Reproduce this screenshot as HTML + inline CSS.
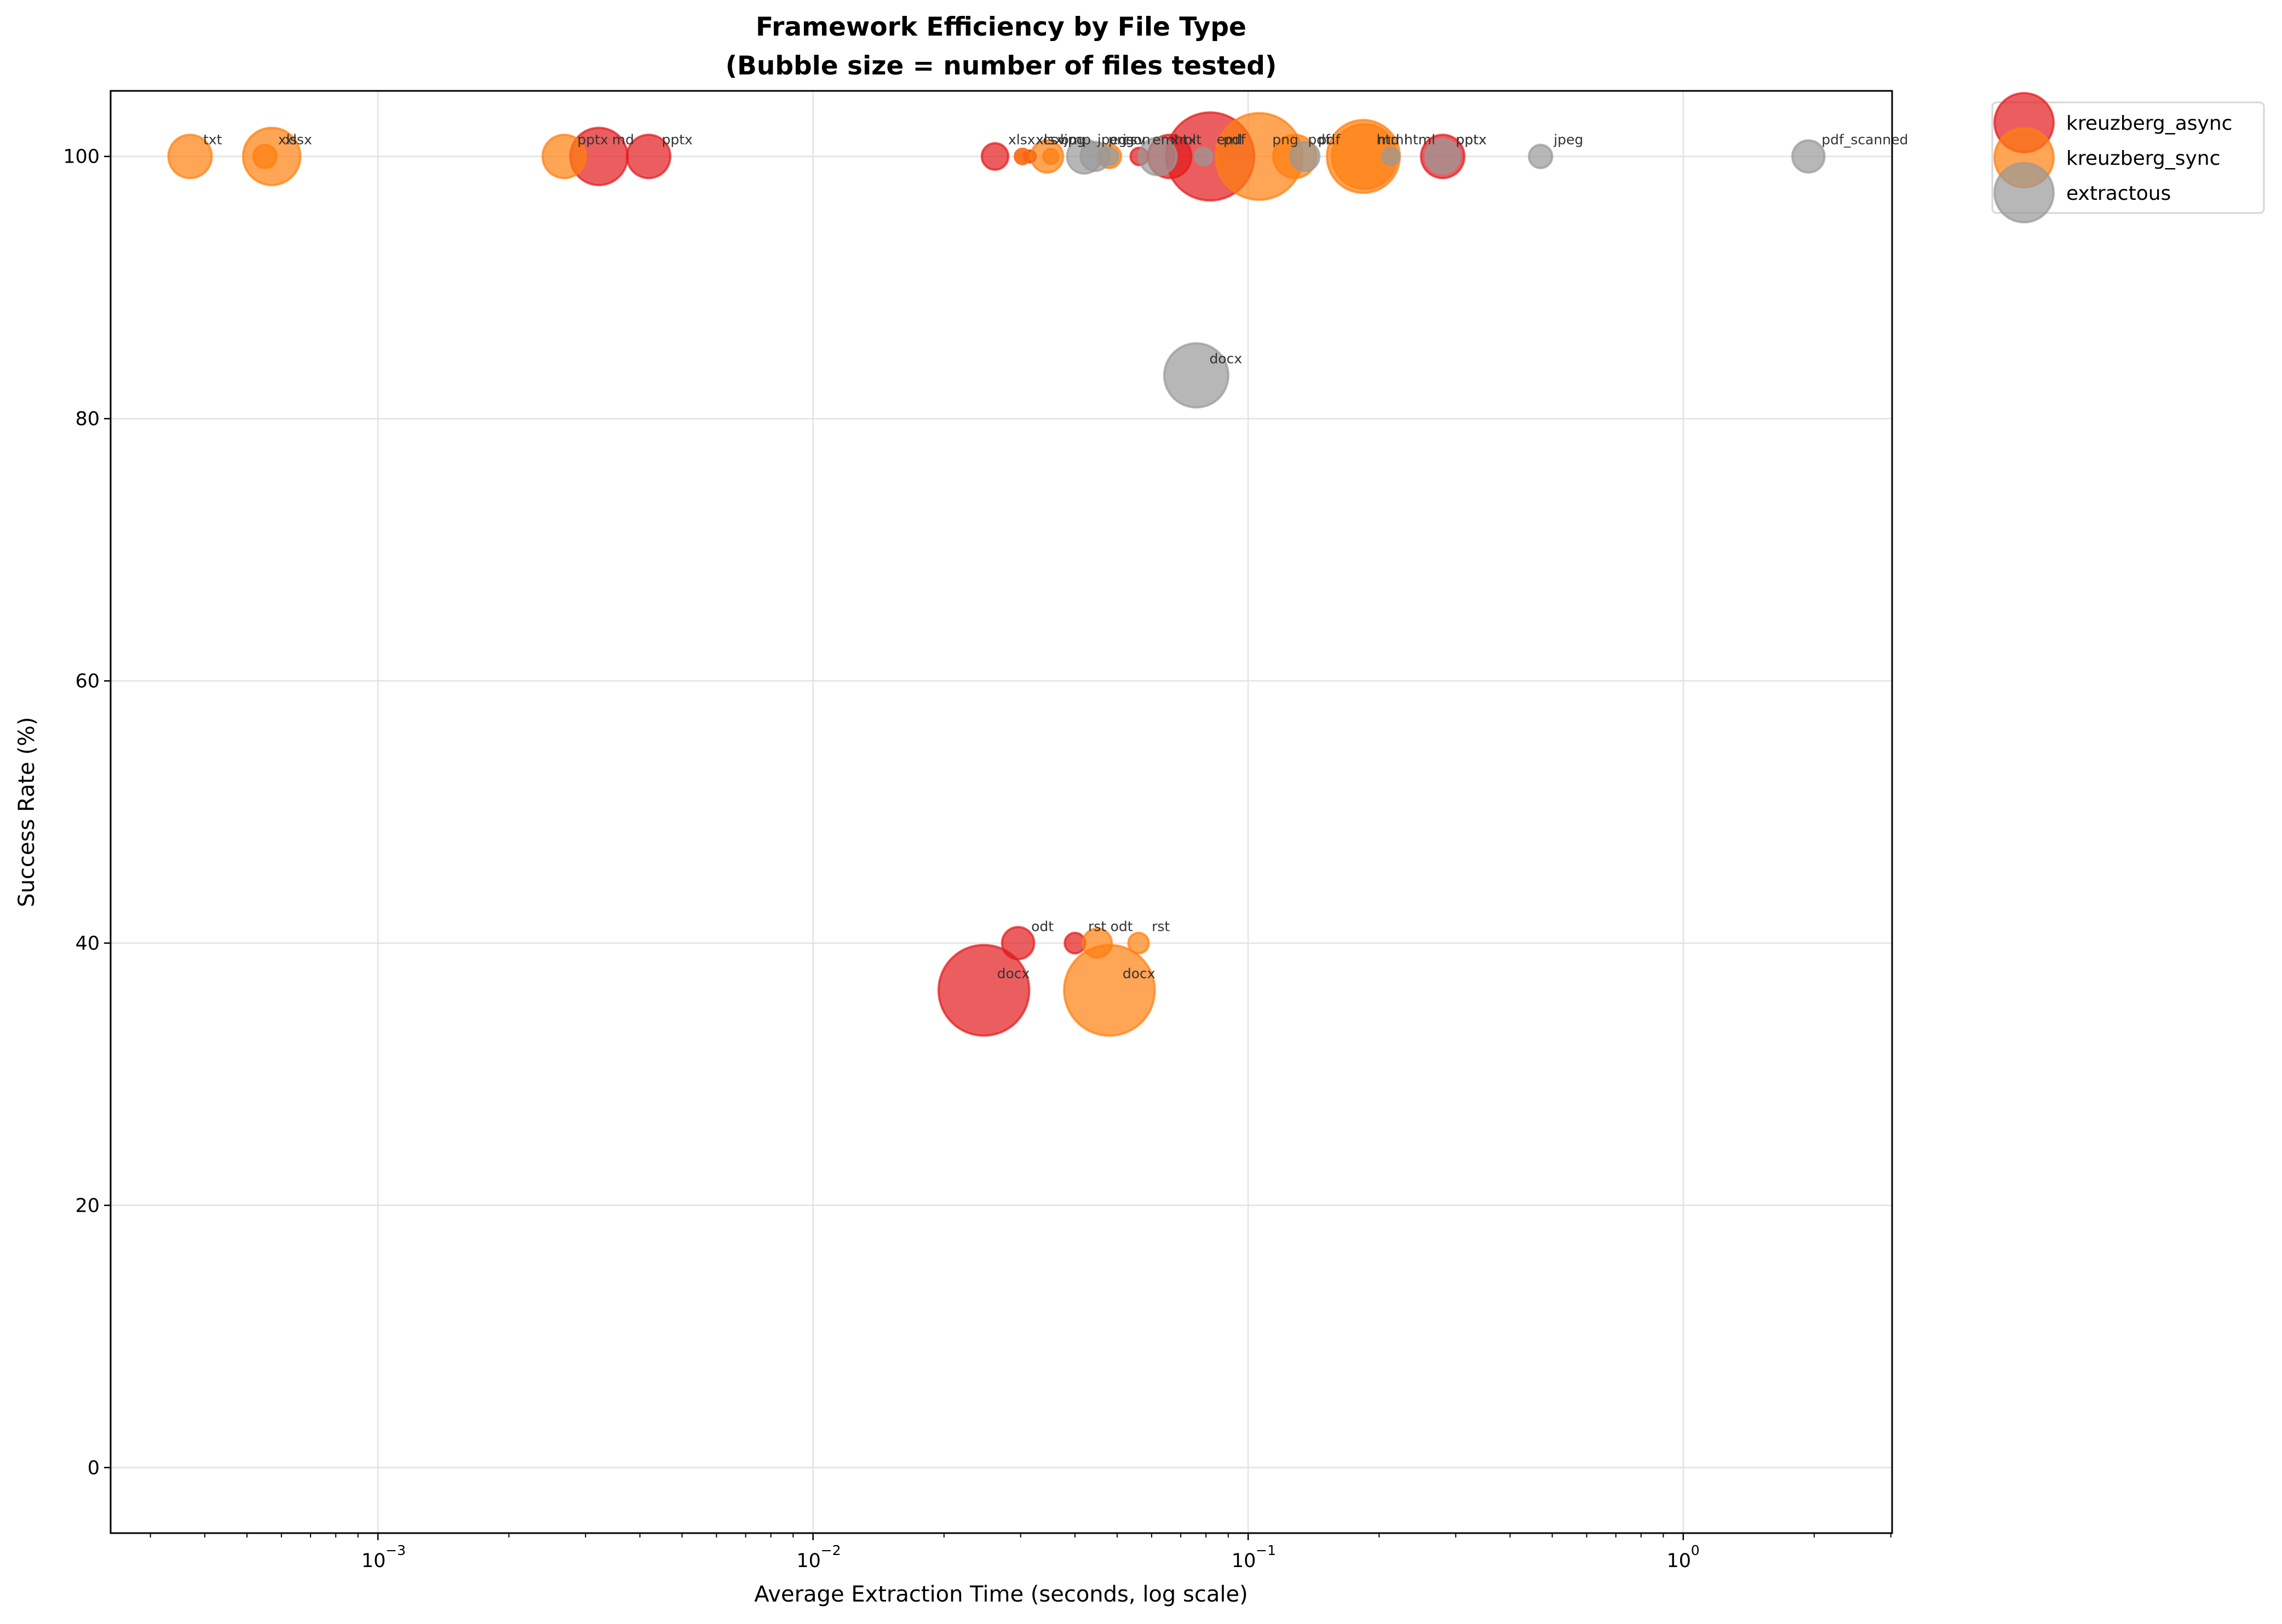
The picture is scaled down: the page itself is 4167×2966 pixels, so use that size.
<!DOCTYPE html>
<html><head><meta charset="utf-8"><style>
html,body{margin:0;padding:0;background:#fff;}
svg{display:block;font-family:"DejaVu Sans","Liberation Sans",sans-serif;}
</style></head><body>
<svg id="chart" width="4167" height="2966" viewBox="0 0 4167 2966" xmlns="http://www.w3.org/2000/svg">
<rect width="4167" height="2966" fill="#fff"/>
<g id="title">
<text x="1828" y="65" text-anchor="middle" font-size="47" font-weight="bold">Framework Efficiency by File Type</text>
<text x="1828" y="136" text-anchor="middle" font-size="47" font-weight="bold">(Bubble size = number of files tested)</text>
</g>
<g id="grid"></g>
<g id="bubbles"></g>
<g id="axes"></g>
<text x="1828" y="2925" text-anchor="middle" font-size="40">Average Extraction Time (seconds, log scale)</text>
<text transform="translate(62,1483) rotate(-90)" text-anchor="middle" font-size="40">Success Rate (%)</text>
<g id="legend"></g>
</svg>
<script>
const seriesNames = ["kreuzberg_async","kreuzberg_sync","extractous"];
const seriesColors = ["#e31a1c","#ff7f0e","#999999"];
const asyncTimes = [0.00322,0.00419,0.0262,0.0303,0.0315,0.0562,0.066,0.0818,0.28,0.0296,0.040,0.0247];
const asyncRates = [100,100,100,100,100,100,100,100,100,40,40,36.4];
const asyncFiles = [14,8,3,1,0.6,1.3,8,33,8,4.4,1.8,35];
const asyncLabels = ["md","pptx","xlsx","xls","csv","eml","txt","pdf","pptx","odt","rst","docx"];
const syncTimes = [0.00037,0.00057,0.00055,0.00268,0.0303,0.0345,0.0352,0.048,0.106,0.128,0.184,0.185,0.056,0.045,0.048];
const syncRates = [100,100,100,100,100,100,100,100,100,100,100,100,40,40,36.4];
const syncFiles = [8,14,2.3,8,1,4.4,1,2.3,32,8,22.6,18,1.8,3.6,35];
const syncLabels = ["txt","xlsx","xls","pptx","xlsx","bmp","jpg","csv","png","pdf","html","md","rst","odt","docx"];
const extTimes = [0.042,0.0445,0.048,0.062,0.079,0.135,0.213,0.28,0.47,1.94,0.076];
const extRates = [100,100,100,100,100,100,100,100,100,100,83.3];
const extFiles = [5,3.6,1.3,6,1.3,3.6,1.3,5,2.3,4.4,17.5];
const extLabels = ["jpeg","png","json","xml","eml","pdf","html","pptx","jpeg","pdf_scanned","docx"];
const yTicks = [0,20,40,60,80,100];
const xTickExps = [-3,-2,-1,0];

const NS="http://www.w3.org/2000/svg";
const L=202,R=3455,T=166,B=2800;
const xMinLog=Math.log10(2.43e-4), xMaxLog=Math.log10(3.02);
const yMin=-5,yMax=105;
function xs(t){return L+(Math.log10(t)-xMinLog)/(xMaxLog-xMinLog)*(R-L);}
function ys(v){return B-(v-yMin)/(yMax-yMin)*(B-T);}
function rs(n){return 14*Math.sqrt(n);}
function mk(tag,attrs,parent){const e=document.createElementNS(NS,tag);for(const k in attrs)e.setAttribute(k,attrs[k]);parent.appendChild(e);return e;}

const grid=document.getElementById('grid');
xTickExps.forEach(e=>{const x=xs(Math.pow(10,e));
 const l=mk('line',{x1:x,x2:x,y1:T,y2:B,stroke:'#e3e3e3','stroke-width':2.5},grid);
 
 });
yTicks.forEach(v=>{const y=ys(v);
 const l=mk('line',{x1:L,x2:R,y1:y,y2:y,stroke:'#e3e3e3','stroke-width':2.5},grid);
 
 });

const bub=document.getElementById('bubbles');
const all=[[asyncTimes,asyncRates,asyncFiles,asyncLabels],[syncTimes,syncRates,syncFiles,syncLabels],[extTimes,extRates,extFiles,extLabels]];
all.forEach((s,si)=>{
 const g=mk('g',{},bub);
 
 
 s[0].forEach((t,i)=>{
  const cx=xs(t),cy=ys(s[1][i]);
  const c=mk('circle',{cx:cx,cy:cy,r:rs(s[2][i]),fill:seriesColors[si],'fill-opacity':0.7,stroke:seriesColors[si],'stroke-opacity':0.7,'stroke-width':4},g);
  
  
 });
});
all.forEach((s,si)=>{
 s[0].forEach((t,i)=>{
  const tx=mk('text',{x:xs(t)+24,y:ys(s[1][i])-22,'font-size':25,fill:'#333'},bub);
  tx.textContent=s[3][i];
  
  
 });
});

const ax=document.getElementById('axes');
const frame=mk('rect',{x:L,y:T,width:R-L,height:B-T,fill:'none',stroke:'#000','stroke-width':3},ax);


yTicks.forEach(v=>{const y=ys(v);
 mk('line',{x1:L-12,x2:L,y1:y,y2:y,stroke:'#000','stroke-width':2.5},ax);
 const t=mk('text',{x:L-20,y:y+12,'text-anchor':'end','font-size':35},ax);
 t.textContent=v;
 
 });
for(let e=-4;e<=0;e++){for(let m=1;m<=9;m++){const v=m*Math.pow(10,e);const lg=Math.log10(v);
 if(lg<xMinLog||lg>xMaxLog)continue;const x=xs(v);
 mk('line',{x1:x,x2:x,y1:B,y2:B+(m===1?13:8),stroke:'#000','stroke-width':m===1?2.5:2},ax);}}
xTickExps.forEach(e=>{const x=xs(Math.pow(10,e));
 const t=mk('text',{x:x-8,y:2862,'text-anchor':'middle','font-size':35},ax);
 t.textContent='10';
 
 
 const s=mk('text',{x:x+14,y:2840,'font-size':25},ax);
 s.textContent=e===0?'0':'\u2212'+(-e);});

const lg=document.getElementById('legend');
const box=mk('rect',{x:3638,y:187,width:496,height:202,rx:8,fill:'#fff','fill-opacity':0.8,stroke:'#d6d6d6','stroke-width':3},lg);


seriesNames.forEach((n,i)=>{const y=224+i*64;
 const c=mk('circle',{cx:3696,cy:y,r:54,fill:seriesColors[i],'fill-opacity':0.7,stroke:seriesColors[i],'stroke-opacity':0.7,'stroke-width':4},lg);
 
 
 const t=mk('text',{x:3773,y:y+13,'font-size':36},lg);
 t.textContent=n;
 
 });
</script>
</body></html>
